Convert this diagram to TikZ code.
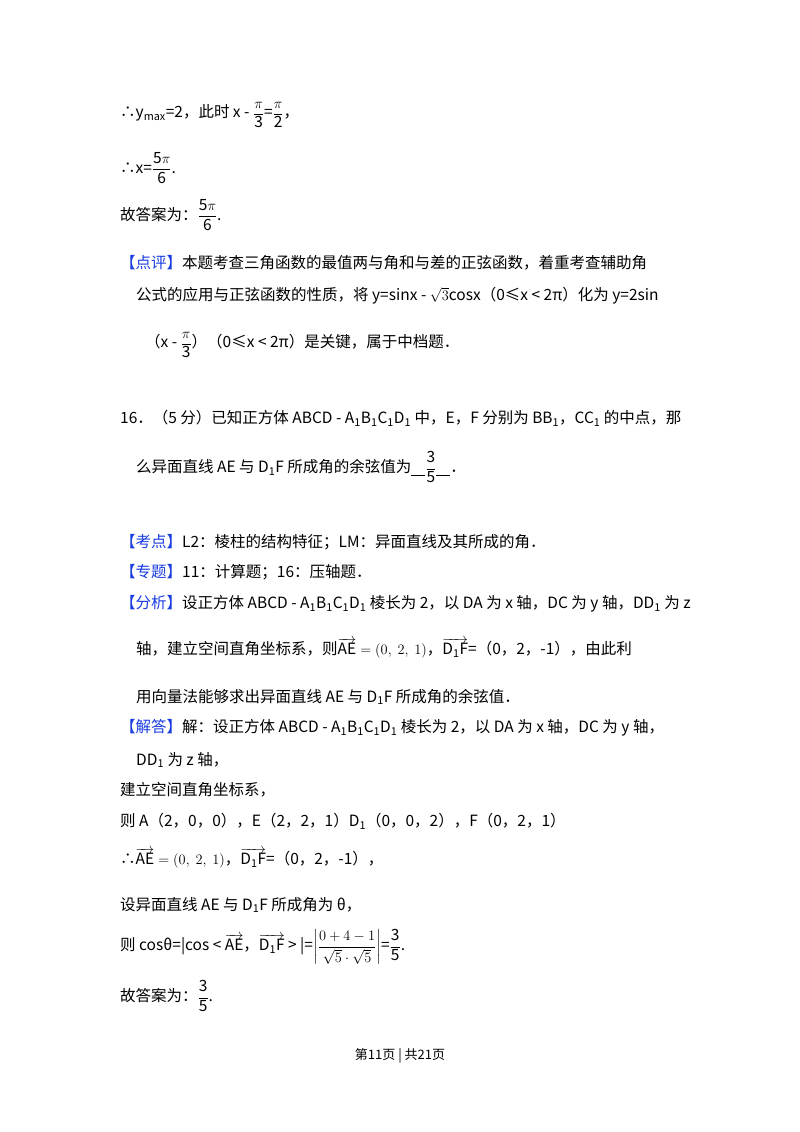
\documentclass[tikz,border=0pt]{standalone}
\usepackage{amsmath}
\usepackage{fontspec}
\setmainfont{Noto Sans CJK SC}
\definecolor{tagblue}{RGB}{25,60,225}
\newcommand{\tg}[1]{{\color{tagblue}【#1】}}
\newcommand{\fr}[2]{\(\dfrac{\mathrm{#1}}{\mathrm{#2}}\)}
\newcommand{\blank}{\rule[-3pt]{14pt}{0.6pt}}
\begin{document}
\begin{tikzpicture}[x=1pt,y=-1pt,
  ln/.style={anchor=west,inner sep=0pt,font=\fontsize{15.5}{18}\selectfont}]
\useasboundingbox (0,0) rectangle (800,1132);
\fill[white] (0,0) rectangle (800,1132);
\node[ln] (l1) at (120,115) {∴y\textsubscript{max}=2，此时 x - \fr{\pi}{3}=\fr{\pi}{2}，};
\node[ln] (l2) at (120,168) {∴x=\fr{5\pi}{6}.};
\node[ln] (l3) at (120,215) {故答案为：\fr{5\pi}{6}.};
\node[ln] (l4) at (120,263) {\tg{点评}本题考查三角函数的最值两与角和与差的正弦函数，着重考查辅助角};
\node[ln] (l5) at (136,296) {公式的应用与正弦函数的性质，将 y=sinx - \(\sqrt{3}\)cosx（0≤x < 2π）化为 y=2sin};
\node[ln] (l6) at (145,345) {（x - \fr{\pi}{3}）（0≤x < 2π）是关键，属于中档题．};
\node[ln] (l7) at (120,418) {16．（5 分）已知正方体 ABCD - A\textsubscript{1}B\textsubscript{1}C\textsubscript{1}D\textsubscript{1} 中，E，F 分别为 BB\textsubscript{1}，CC\textsubscript{1} 的中点，那};
\node[ln] (l8) at (136,467) {么异面直线 AE 与 D\textsubscript{1}F 所成角的余弦值为\blank\fr{3}{5}\blank．};
\node[ln] (l9) at (120,542) {\tg{考点}L2：棱柱的结构特征；LM：异面直线及其所成的角．};
\node[ln] (l10) at (120,572) {\tg{专题}11：计算题；16：压轴题．};
\node[ln] (l11) at (120,604) {\tg{分析}设正方体 ABCD - A\textsubscript{1}B\textsubscript{1}C\textsubscript{1}D\textsubscript{1} 棱长为 2，以 DA 为 x 轴，DC 为 y 轴，DD\textsubscript{1} 为 z};
\node[ln] (l12) at (136,648) {轴，建立空间直角坐标系，则\(\overrightarrow{\mathrm{AE}}=(0,\ 2,\ 1)\)，\(\overrightarrow{\mathrm{D_1F}}\)=（0，2，-1），由此利};
\node[ln] (l13) at (136,697) {用向量法能够求出异面直线 AE 与 D\textsubscript{1}F 所成角的余弦值．};
\node[ln] (l14) at (120,728) {\tg{解答}解：设正方体 ABCD - A\textsubscript{1}B\textsubscript{1}C\textsubscript{1}D\textsubscript{1} 棱长为 2，以 DA 为 x 轴，DC 为 y 轴，};
\node[ln] (l15) at (136,760) {DD\textsubscript{1} 为 z 轴，};
\node[ln] (l16) at (120,790) {建立空间直角坐标系，};
\node[ln] (l17) at (120,821) {则 A（2，0，0），E（2，2，1）D\textsubscript{1}（0，0，2），F（0，2，1）};
\node[ln] (l18) at (120,858) {∴\(\overrightarrow{\mathrm{AE}}=(0,\ 2,\ 1)\)，\(\overrightarrow{\mathrm{D_1F}}\)=（0，2，-1），};
\node[ln] (l19) at (120,905) {设异面直线 AE 与 D\textsubscript{1}F 所成角为 θ，};
\node[ln] (l20) at (120,947) {则 cosθ=|cos < \(\overrightarrow{\mathrm{AE}}\)，\(\overrightarrow{\mathrm{D_1F}}\) > |=\(\left|\dfrac{0+4-1}{\sqrt{5}\cdot\sqrt{5}}\right|\)=\fr{3}{5}.};
\node[ln] (l21) at (120,996) {故答案为：\fr{3}{5}.};
\node[ln,anchor=center,font=\fontsize{13}{15}\selectfont] (ft) at (400,1056) {第11页 | 共21页};
\end{tikzpicture}
\end{document}
